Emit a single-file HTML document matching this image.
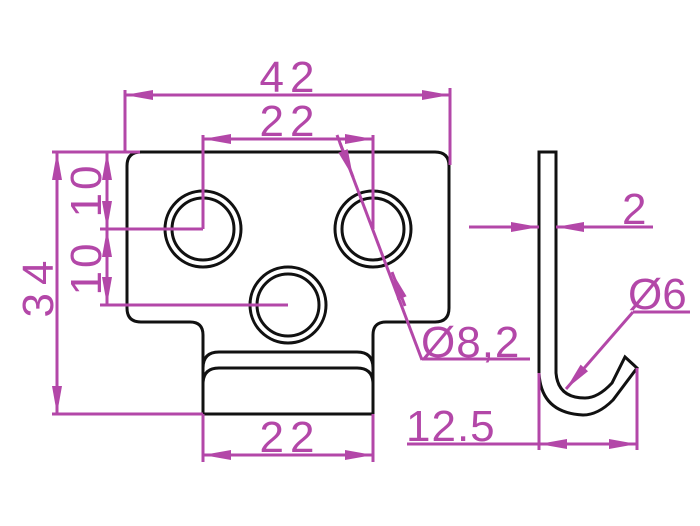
<!DOCTYPE html>
<html><head><meta charset="utf-8"><style>
html,body{margin:0;padding:0;background:#fff;}
svg{display:block}
text{font-family:"Liberation Sans",sans-serif;fill:#b347a8;font-size:44px;}
</style></head><body>
<svg width="700" height="526" viewBox="0 0 700 526" xmlns="http://www.w3.org/2000/svg">
<defs>
<marker id="a" viewBox="0 0 28 10" refX="28" refY="5" markerWidth="28" markerHeight="10" markerUnits="userSpaceOnUse" orient="auto-start-reverse"><path d="M0,0 L28,5 L0,10 z" fill="#b347a8"/></marker>
</defs>
<g fill="none" stroke="#111" stroke-width="3">
<path d="M127,166 Q127,152 141,152 L435,152 Q449,152 449,166 L449,308 Q449,322 435,322 L386,322 Q373,322 373,335 L373,414 L203,414 L203,335 Q203,322 190,322 L141,322 Q127,322 127,308 Z"/>
<path d="M203,368 Q203,352 219,352 L357,352 Q373,352 373,368"/>
<path d="M203,384 Q203,368 219,368 L357,368 Q373,368 373,384"/>
<circle cx="203" cy="229" r="38"/><circle cx="203" cy="229" r="31"/>
<circle cx="373" cy="229" r="38"/><circle cx="373" cy="229" r="31"/>
<circle cx="288" cy="305" r="38"/><circle cx="288" cy="305" r="31"/>
<path d="M539,373 L539,152 L556,152 L556,373 Q558,398 585,398 Q598,398 612,383 L625,357 L637,368 L613,400 Q598,415 583,415 Q541,413 539,373"/>
</g>
<g stroke="#b347a8" stroke-width="3" fill="none">
<line x1="125" y1="90" x2="125" y2="152"/><line x1="450" y1="88" x2="450" y2="165"/>
<line x1="125" y1="95" x2="450" y2="95" marker-start="url(#a)" marker-end="url(#a)"/>
<line x1="203" y1="135" x2="203" y2="229"/><line x1="373" y1="135" x2="373" y2="229"/>
<line x1="203" y1="139" x2="373" y2="139" marker-start="url(#a)" marker-end="url(#a)"/>
<line x1="52" y1="152" x2="140" y2="152"/><line x1="52" y1="414" x2="203" y2="414"/>
<line x1="57" y1="152" x2="57" y2="414" marker-start="url(#a)" marker-end="url(#a)"/>
<line x1="100" y1="229" x2="203" y2="229"/><line x1="100" y1="305" x2="288" y2="305"/>
<line x1="107" y1="152" x2="107" y2="229" marker-start="url(#a)" marker-end="url(#a)"/>
<line x1="107" y1="229" x2="107" y2="305" marker-start="url(#a)" marker-end="url(#a)"/>
<line x1="337" y1="135" x2="422" y2="360"/>
<line x1="340" y1="143" x2="353" y2="177" marker-end="url(#a)"/>
<line x1="405" y1="306" x2="392" y2="272" marker-end="url(#a)"/>
<line x1="422" y1="359" x2="530" y2="359"/>
<line x1="203" y1="414" x2="203" y2="462"/><line x1="373" y1="414" x2="373" y2="462"/>
<line x1="203" y1="455" x2="373" y2="455" marker-start="url(#a)" marker-end="url(#a)"/>
<line x1="469" y1="227" x2="539" y2="227" marker-end="url(#a)"/>
<line x1="653" y1="227" x2="556" y2="227" marker-end="url(#a)"/>
<line x1="633" y1="312" x2="690" y2="312"/>
<line x1="633" y1="312" x2="566" y2="389" marker-end="url(#a)"/>
<line x1="539" y1="373" x2="539" y2="450"/><line x1="637" y1="368" x2="637" y2="450"/>
<line x1="407" y1="444" x2="539" y2="444"/>
<line x1="539" y1="444" x2="637" y2="444" marker-start="url(#a)" marker-end="url(#a)"/>
</g>
<text x="290" y="92" text-anchor="middle" letter-spacing="6">42</text>
<text x="290" y="136" text-anchor="middle" letter-spacing="6">22</text>
<text x="290" y="452" text-anchor="middle" letter-spacing="6">22</text>
<text transform="translate(53,285) rotate(-90)" text-anchor="middle" letter-spacing="8">34</text>
<text transform="translate(101,190) rotate(-90)" text-anchor="middle" font-size="38" letter-spacing="3">10</text>
<text transform="translate(101,268) rotate(-90)" text-anchor="middle" font-size="38" letter-spacing="3">10</text>
<text x="421" y="357" letter-spacing="1">Ø8,2</text>
<text x="622" y="224">2</text>
<text x="628" y="309">Ø6</text>
<text x="406" y="441" letter-spacing="1">12.5</text>
</svg>
</body></html>
